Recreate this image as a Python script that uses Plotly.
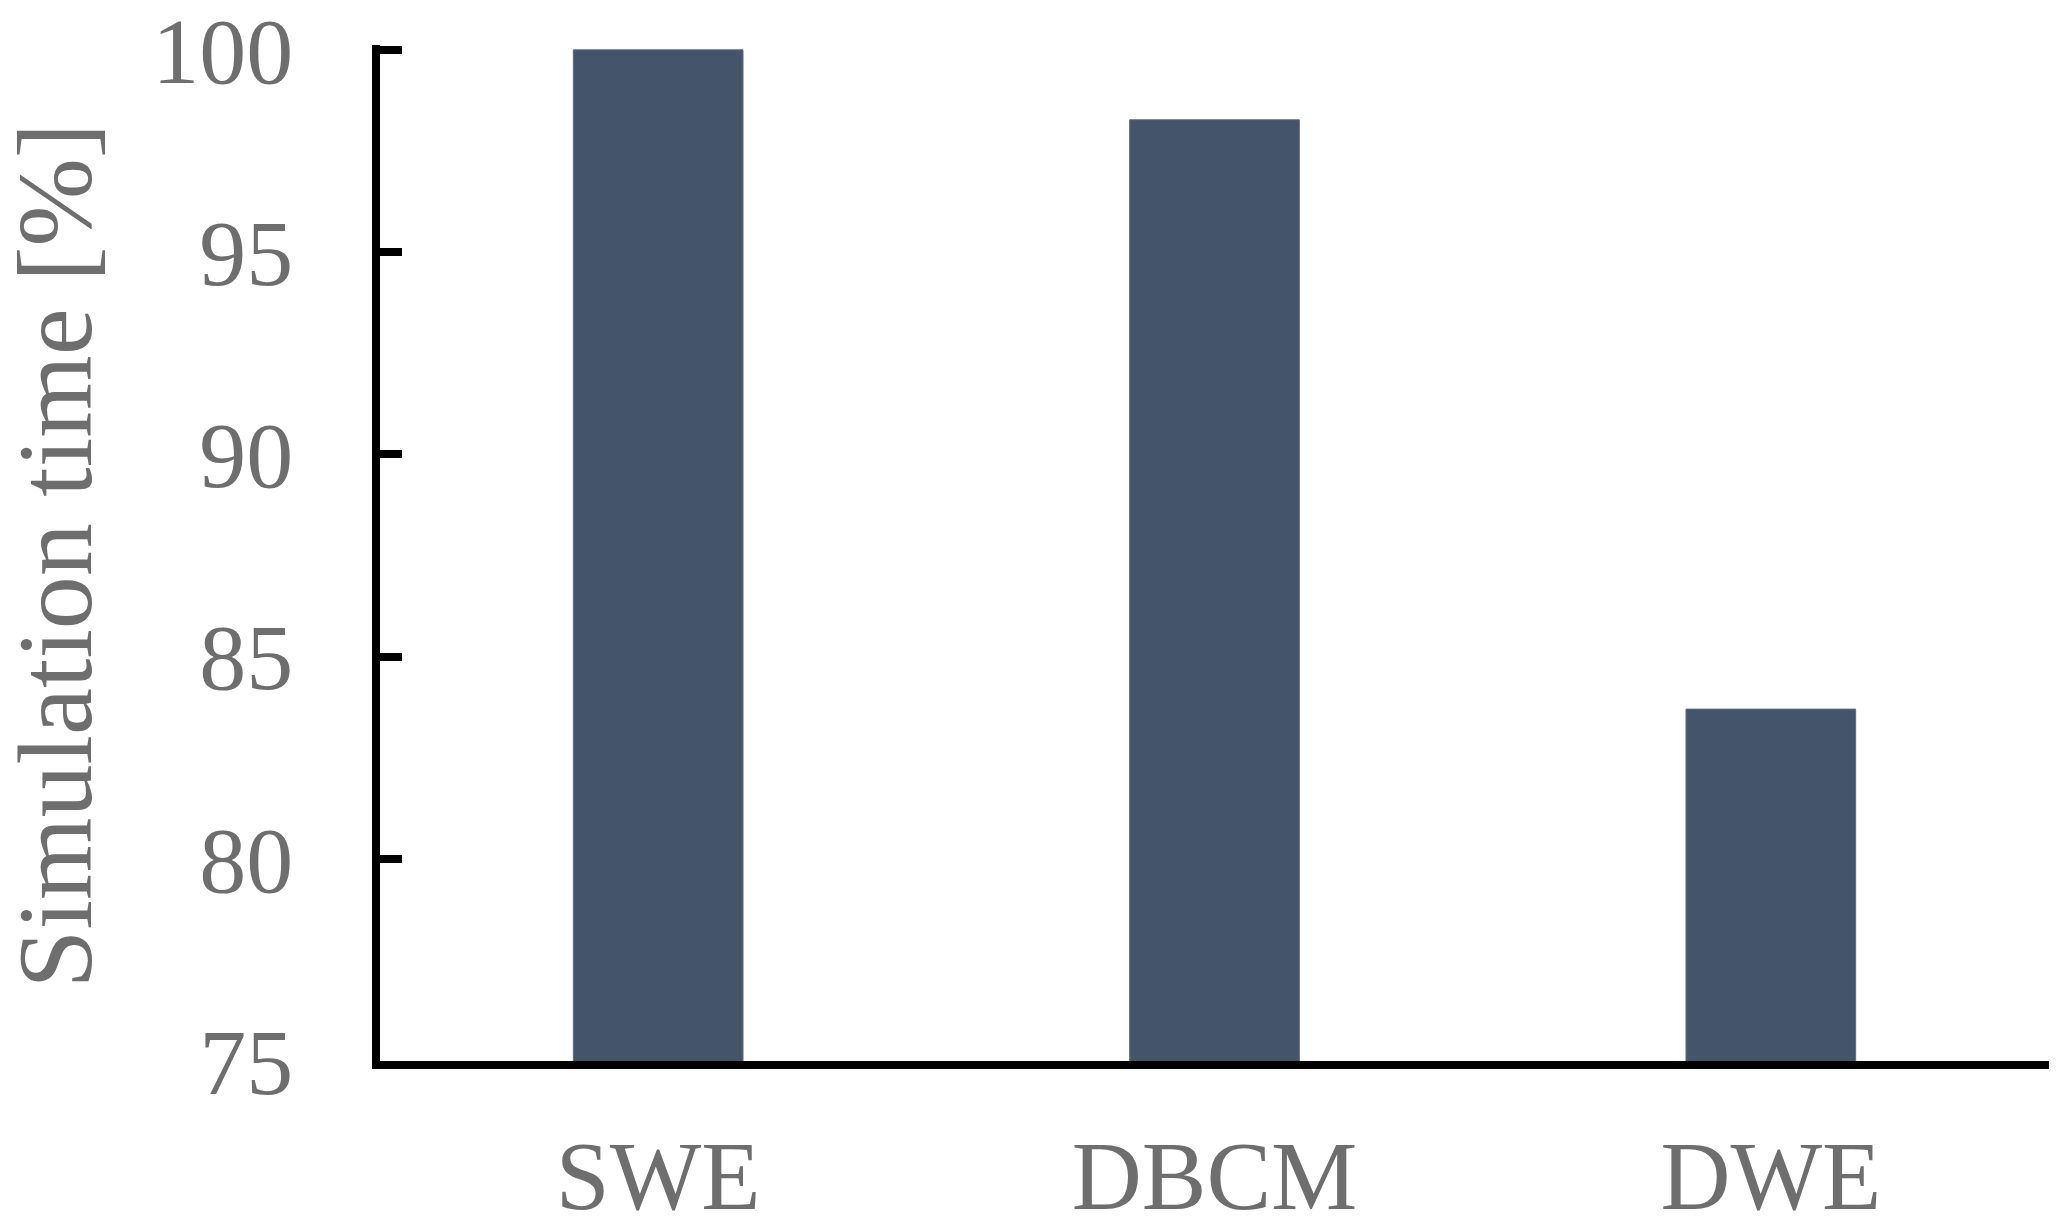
import plotly.graph_objects as go

categories = ["SWE", "DBCM", "DWE"]
sim_time = [100.0, 98.27, 83.7]
y_ticks = [75, 80, 85, 90, 95, 100]
y_title = "Simulation time [%]"

bar_color = "#44546a"
text_color = "#6e6e6e"
font_family = "'Liberation Serif', 'Times New Roman', Times, serif"

fig = go.Figure(
    go.Bar(
        x=categories,
        y=sim_time,
        marker=dict(color=bar_color, line=dict(color="#5b6b82", width=1)),
        width=0.305,
    )
)

fig.update_layout(
    width=2067,
    height=1229,
    margin=dict(l=372, r=26, t=37, b=176, autoexpand=False),
    paper_bgcolor="white",
    plot_bgcolor="white",
    showlegend=False,
    font=dict(family=font_family, color=text_color),
)

fig.update_xaxes(
    range=[-0.5, 2.5],
    showline=True,
    linecolor="black",
    linewidth=8,
    ticks="",
    showgrid=False,
    automargin=False,
    tickfont=dict(size=97, family=font_family, color=text_color),
    ticklabelstandoff=24,
    ticklabeloverflow="allow",
)

fig.update_yaxes(
    range=[75, 100.12],
    tickvals=y_ticks,
    ticktext=[str(v) for v in y_ticks],
    showline=True,
    linecolor="black",
    linewidth=8,
    ticks="inside",
    ticklen=22,
    tickwidth=8,
    tickcolor="black",
    showgrid=False,
    zeroline=False,
    automargin=False,
    ticklabeloverflow="allow",
    tickfont=dict(size=94, family=font_family, color=text_color),
    ticklabelstandoff=60,
)

fig.add_annotation(
    text=y_title,
    xref="paper",
    yref="paper",
    x=-0.1945,
    y=0.498,
    xanchor="center",
    yanchor="middle",
    textangle=-90,
    showarrow=False,
    font=dict(size=106, family=font_family, color=text_color),
)

fig.write_html("out.html")
